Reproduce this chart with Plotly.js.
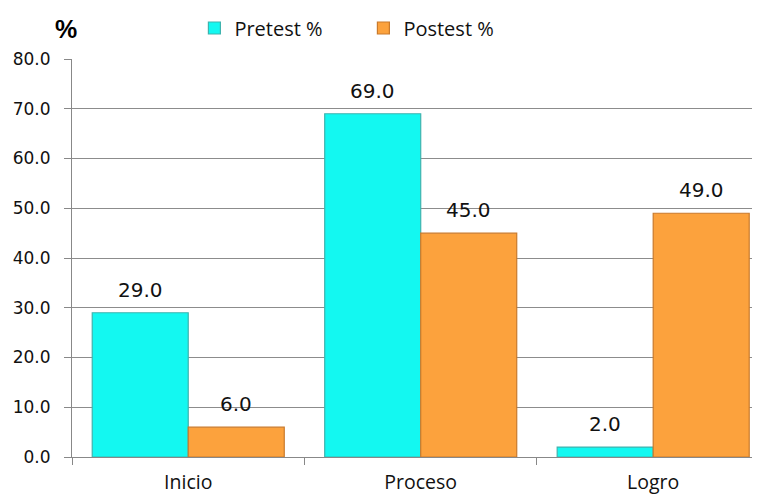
<!DOCTYPE html>
<html>
<head>
<meta charset="utf-8">
<script src="https://cdn.plot.ly/plotly-3.0.1.min.js"></script>
<style>html,body{margin:0;padding:0;background:#fff;}#chart{width:757px;height:496px;}</style>
</head>
<body>
<div id="chart"></div>
<script>
const categories = ["Inicio", "Proceso", "Logro"];
const seriesNames = ["Pretest %", "Postest %"];
const pretest = [29.0, 69.0, 2.0];
const postest = [6.0, 45.0, 49.0];
const yTickVals = [0, 10, 20, 30, 40, 50, 60, 70, 80];

const colors = ["#13f8f1", "#fca23d"];
const borders = ["#3fb3ae", "#c97a2c"];
const bargap = 0.174;

const seriesValues = [pretest, postest];
const traces = seriesValues.map((vals, i) => ({
  type: "bar",
  name: seriesNames[i],
  x: categories,
  y: vals,
  marker: {color: colors[i], line: {color: borders[i], width: 1.2}},
  hoverinfo: "skip"
}));

// data labels above each bar, derived from the data and bar layout
const annotations = [];
const half = (1 - bargap) / 4;
seriesValues.forEach((vals, i) => {
  vals.forEach((v, j) => {
    annotations.push({
      x: j + (i === 0 ? -half : half),
      y: v,
      xref: "x", yref: "y",
      text: v.toFixed(1),
      showarrow: false,
      yanchor: "middle",
      yshift: 23,
      font: {family: "DejaVu Sans", size: 20, color: "#111"}
    });
  });
});

const layout = {
  width: 757, height: 496,
  margin: {l: 72, r: 5, t: 59, b: 39},
  paper_bgcolor: "#fff", plot_bgcolor: "#fff",
  barmode: "group", bargap: bargap, bargroupgap: 0,
  title: {
    text: "<b>%</b>", x: 55 / 757, xanchor: "left", xref: "container",
    y: 1 - 29 / 496, yanchor: "middle", yref: "container",
    font: {family: "Liberation Sans", size: 25, color: "#000"}
  },
  showlegend: true,
  legend: {
    orientation: "h", x: 0.18, xanchor: "left", y: 1 - 28 / 496, yanchor: "middle",
    yref: "container",
    font: {family: "Open Sans", size: 20, color: "#111"},
    itemwidth: 30, entrywidth: 124, traceorder: "normal",
    bgcolor: "rgba(0,0,0,0)"
  },
  xaxis: {
    type: "category",
    range: [-0.5, 2.425],
    tickson: "boundaries", ticks: "outside", ticklen: 7, tickcolor: "#888",
    ticklabelstandoff: 8,
    showgrid: false, showline: true, linecolor: "#888", linewidth: 1,
    tickfont: {family: "Open Sans", size: 19.5, color: "#111"},
    fixedrange: true
  },
  yaxis: {
    range: [0, 80],
    tickvals: yTickVals,
    tickformat: ".1f",
    ticks: "outside", ticklen: 7, tickcolor: "#888",
    ticklabelstandoff: 10,
    showgrid: true, gridcolor: "#8c8c8c", gridwidth: 1,
    showline: true, linecolor: "#888", linewidth: 1,
    zeroline: false,
    tickfont: {family: "DejaVu Sans", size: 17, color: "#111"},
    fixedrange: true
  },
  annotations: annotations
};

Plotly.newPlot("chart", traces, layout, {displayModeBar: false, staticPlot: true});
</script>
</body>
</html>
